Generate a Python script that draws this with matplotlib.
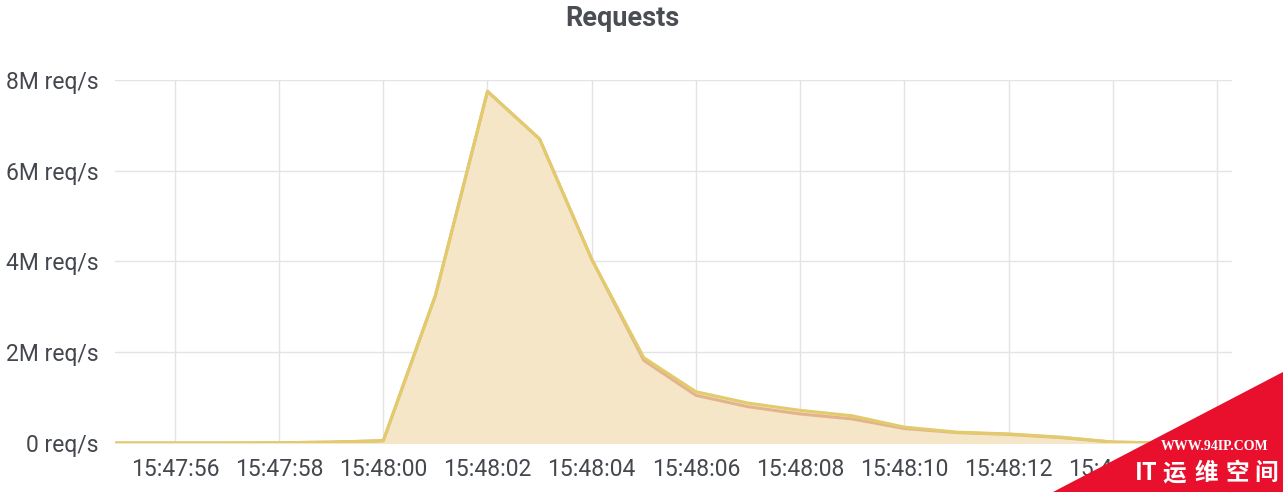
import matplotlib
matplotlib.use("Agg")
import matplotlib.pyplot as plt
import matplotlib.dates as mdates
import pandas as pd
from matplotlib.patches import Polygon

# one sample per second, 15:47:54 .. 15:48:16
times = pd.date_range("2020-01-01 15:47:54", "2020-01-01 15:48:16", freq="1s")

# requests per second, in millions
total = [0.0, 0.0, 0.0, 0.0, 0.005, 0.02, 0.05, 3.25, 7.75, 6.7, 4.05, 1.88,
         1.13, 0.88, 0.72, 0.6, 0.35, 0.24, 0.2, 0.13, 0.02, 0.0, 0.0]
served = [0.0, 0.0, 0.0, 0.0, 0.005, 0.02, 0.05, 3.25, 7.75, 6.7, 4.05, 1.82,
          1.05, 0.8, 0.64, 0.53, 0.32, 0.23, 0.19, 0.12, 0.02, 0.0, 0.0]

y_ticks = [0, 2, 4, 6, 8]
y_labels = ["0 req/s", "2M req/s", "4M req/s", "6M req/s", "8M req/s"]

text_color = "#44484e"


def main():
    fig = plt.figure(figsize=(12.83, 4.92), dpi=100)
    ax = fig.add_axes([0.0896, 0.0996, 0.8707, 0.7378])
    plt.rcParams["font.family"] = ["Roboto", "DejaVu Sans"]

    x = [mdates.date2num(t) for t in times]
    ax.fill_between(x, total, 0, color="#f4e6c6", zorder=1)
    ax.plot(x, served, color="#e3b48c", linewidth=2.2, zorder=3)
    ax.plot(x, total, color="#e2cb6c", linewidth=2.2, zorder=4)

    left = mdates.date2num(pd.Timestamp("2020-01-01 15:47:54.85"))
    right = mdates.date2num(pd.Timestamp("2020-01-01 15:48:16.29"))
    ax.set_xlim(left, right)
    ax.set_ylim(0, 8)

    ax.xaxis.set_major_locator(mdates.SecondLocator(bysecond=range(0, 60, 2)))
    ax.xaxis.set_major_formatter(mdates.DateFormatter("%H:%M:%S"))
    ax.set_yticks(y_ticks)
    ax.set_yticklabels(y_labels)

    for lab in ax.get_xticklabels() + ax.get_yticklabels():
        lab.set_fontfamily("Roboto")
        lab.set_fontsize(16.5)
        lab.set_color(text_color)
    ax.tick_params(axis="both", length=0)
    ax.tick_params(axis="y", pad=12)
    ax.tick_params(axis="x", pad=11)

    ax.grid(True, color="#e4e4e4", linewidth=1)
    ax.set_axisbelow(True)
    for s in ax.spines.values():
        s.set_visible(False)

    fig.text(0.485, 0.963, "Requests", ha="center", va="center",
             fontsize=19.5, fontweight="bold", color="#4a4e54",
             fontfamily="Roboto")

    # watermark in the lower right corner
    tri = Polygon([[1053 / 1283, 0], [1, 120 / 492], [1, 0]],
                  closed=True, transform=fig.transFigure,
                  facecolor="#e8102c", edgecolor="none", zorder=10)
    fig.patches.append(tri)
    fig.text(1215 / 1283, 1 - 447 / 492, "WWW.94IP.COM", ha="center",
             va="center", fontsize=10, fontweight="bold", color="white",
             fontfamily="Liberation Serif", zorder=11)
    marks = [("IT", 1146), ("运", 1174), ("维", 1206), ("空", 1237),
             ("间", 1266)]
    for ch, cx in marks:
        fig.text(cx / 1283, 1 - 473 / 492, ch, ha="center", va="center",
                 fontsize=17, fontweight="bold", color="white",
                 fontfamily=["Noto Sans CJK SC", "DejaVu Sans"], zorder=11)

    fig.savefig("out.png", dpi=100, facecolor="white")


if __name__ == "__main__":
    main()
